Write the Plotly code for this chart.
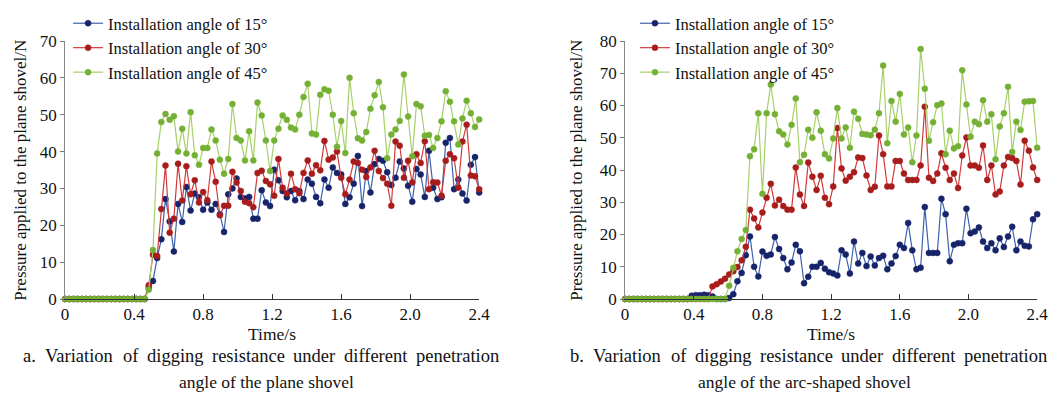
import numpy as np
import plotly.graph_objects as go

# ---------------- data ----------------
time_s = np.round(np.linspace(0, 2.4, 100), 4)  # uniform sampling grid of the simulation

tick_vals = [0, 0.4, 0.8, 1.2, 1.6, 2.0, 2.4]
tick_text = ["0", "0.4", "0.8", "1.2", "1.6", "2.0", "2.4"]

series_names = ["Installation angle of 15°", "Installation angle of 30°", "Installation angle of 45°"]

# (a) plane shovel
plane_15 = [0]*20 + [3, 4.9, 11.1, 16.2, 27.1, 21, 12.9, 25.8, 20.9, 30.4,
                     24, 28.6, 27.6, 24.2, 26.2, 24.2, 25.8, 23, 18.2, 28.4,
                     30, 32.7, 27.7, 27.3, 27.7, 21.8, 21.8, 29.5, 26.2, 25.2,
                     35.1, 32.2, 29.3, 27.6, 29.3, 26.8, 29.3, 27.1, 32.4, 31.3,
                     27.7, 26, 32.4, 30.2, 35.7, 34.2, 33.8, 25.8, 27.6, 31.3,
                     38.8, 25.2, 34.7, 28.9, 36.6, 38, 37.5, 34.4, 30.9, 32.9,
                     37.3, 35.4, 30.7, 26.4, 35.3, 33.8, 27.7, 40.2, 30.2, 27.1,
                     27.6, 42.4, 43.7, 29.8, 32.4, 28.6, 26.7, 36.4, 38.5, 28.9]
plane_30 = [0]*20 + [3.7, 12, 11.7, 24.4, 36.2, 18, 21.8, 36.7, 26.7, 36,
                     28.4, 32.2, 26.2, 29, 26.8, 37.3, 31.8, 22.7, 25.3, 25.3,
                     34.5, 31.6, 29.3, 26.4, 26, 24.9, 34.2, 34.8, 32, 31.1,
                     28, 38, 30.2, 28.6, 34, 29.8, 28.7, 34.2, 37.6, 34,
                     36.3, 34.9, 42.9, 37.8, 38.4, 40, 32.9, 28.4, 32.4, 37.3,
                     36.9, 35.1, 33.1, 35.7, 40.2, 34.7, 32.8, 31.3, 25.3, 42.7,
                     41.6, 32.9, 37.5, 31.6, 39.3, 36.9, 42.8, 29.8, 31.7, 31.6,
                     28, 37.5, 39.3, 38.2, 30.2, 42.7, 47.3, 33.5, 33.3, 29.8]
plane_45 = [0]*20 + [2.5, 13.3, 39.5, 48, 50.2, 48.6, 49.6, 40, 46.2, 39.5,
                     50.7, 39, 36.4, 41, 41, 46, 43, 37.8, 34, 38,
                     52.9, 43.7, 43, 37.6, 45.5, 37.6, 53.3, 49.8, 43, 34.7,
                     43, 46.2, 49.8, 48.6, 46.5, 46, 50, 54.8, 58.4, 44.9,
                     44.6, 55.4, 56.9, 56.5, 50, 41.3, 48.3, 39.6, 60, 50.4,
                     43.6, 43, 45.3, 51.6, 55.3, 58.9, 52, 38.2, 44.6, 46,
                     48.3, 60.9, 49.5, 38.7, 52.9, 52.3, 44.3, 44.5, 41, 43.7,
                     48.2, 56.4, 53.5, 48.2, 41.9, 49, 53.8, 50.4, 46.7, 48.7]

# (b) arc-shaped shovel
arc_15 = [0]*16 + [1.0, 1.2, 1.2, 1.3, 1.2, 0.8] + [0]*3 + [
    0.3, 1.5, 5.5, 8.1, 13.6, 19.4, 10, 7, 14.7, 13.4,
    13.8, 19.2, 15.5, 12.7, 9.2, 11.3, 16.8, 14.8, 4.9, 6.9,
    10, 10, 11.2, 9.4, 8.3, 7.9, 7.3, 15.1, 13.8, 7.9,
    17.8, 11, 14.3, 10.2, 13.2, 10.4, 12.7, 13.4, 9.2, 11,
    13.3, 16.8, 15.8, 23.6, 15.1, 9.2, 9.7, 28.5, 14.3, 14.3,
    14.3, 31.1, 26.3, 11.7, 16.8, 17.3, 17.3, 28, 20.4, 20.9,
    22.2, 17.8, 15.8, 17.3, 15.1, 18.8, 16.1, 19.4, 22.4, 15.1,
    17.8, 16.5, 16.3, 24.7, 26.3]
arc_30 = [0]*21 + [
    3.9, 4.6, 5.4, 6.3, 7.6, 8.6, 9.9, 12, 16.2, 27.7,
    25, 22.2, 26.8, 31.4, 35.7, 29, 30.8, 28.8, 27.7, 27.7,
    40.8, 32.4, 28.8, 42.3, 37.9, 33.8, 38.2, 31.4, 29.4, 34.9,
    53, 40.5, 36.7, 37.9, 39.3, 43.9, 43.7, 38.3, 33.8, 34.8,
    50.7, 44.9, 34.9, 34.9, 42.8, 42.8, 38.9, 36.9, 36.9, 36.9,
    41.4, 59.6, 37.6, 36.6, 38.9, 45.2, 40.7, 36.9, 38.9, 34.4,
    44.5, 50.1, 41.4, 41.4, 40.7, 47.6, 36.9, 41.4, 32.4, 33.3,
    41.4, 44, 43.7, 42.8, 35.5, 49.1, 46, 40.8, 36.9]
arc_45 = [0]*25 + [
    4.1, 9.7, 14.8, 18.6, 21.4, 44.3, 46.4, 57.6, 32.6, 57.6,
    66.5, 57.3, 52, 51, 47.9, 54, 62.2, 42.4, 44.7, 52.5,
    50, 57.9, 52.2, 44.9, 43.6, 49.8, 59.2, 49.8, 53.2, 46.9,
    58.1, 55.9, 51.2, 51, 50.8, 52.5, 57.6, 72.4, 48.3, 61.4,
    55, 63.6, 51, 53.2, 42.4, 50.7, 77.5, 65.2, 49.1, 54.8,
    60.1, 60.6, 44.9, 52.2, 46.7, 47.4, 70.9, 60.3, 50.3, 55,
    54.2, 61.6, 55, 57.3, 43.3, 53.5, 57.6, 65.8, 45.6, 55,
    52.4, 61.2, 61.3, 61.4, 46.9]

caption_a = ["a. Variation of digging resistance under different penetration", "angle of the plane shovel"]
caption_b = ["b. Variation of digging resistance under different penetration", "angle of the arc-shaped shovel"]

# ---------------- styling ----------------
W, H = 1060, 408
TOP, BOT = 41, 299  # pixel rows of the plot area
FONT = "Liberation Serif, Times New Roman, serif"
line_cols = ["#3d62ad", "#d23a3a", "#a6d06a"]
mark_cols = ["#17246a", "#a81c1c", "#74b034"]

fig = go.Figure()

panels = [
    ("x", "y", "legend", [plane_15, plane_30, plane_45]),
    ("x2", "y2", "legend2", [arc_15, arc_30, arc_45]),
]
for xa, ya, lg, ser in panels:
    for name, vals, lc, mc in zip(series_names, ser, line_cols, mark_cols):
        fig.add_trace(go.Scatter(
            x=time_s, y=vals, name=name, xaxis=xa, yaxis=ya, legend=lg,
            mode="lines+markers", cliponaxis=False,
            line=dict(color=lc, width=1.2),
            marker=dict(color=mc, size=6, line=dict(color=mc, width=0.5)),
        ))

def px_x(p):
    return p / W

def px_y(p):
    return (BOT - p) / (BOT - TOP)

axis_common = dict(showgrid=False, zeroline=False, showline=True,
                   tickfont=dict(family=FONT, size=17, color="#111"))

fig.update_layout(
    width=W, height=H,
    margin=dict(l=0, r=0, t=TOP, b=H - BOT),
    paper_bgcolor="white", plot_bgcolor="white",
    font=dict(family=FONT, color="#111"),
    xaxis=dict(domain=[px_x(62), px_x(482)], range=[0, 2.4], tickvals=tick_vals, ticktext=tick_text,
               ticks="inside", ticklen=5, tickcolor="#333", linecolor="#333", linewidth=1, **axis_common),
    yaxis=dict(range=[0, 70], tickvals=[0, 10, 20, 30, 40, 50, 60, 70], ticks="outside", ticklen=4,
               tickcolor="#777", linecolor="#888", linewidth=1, **axis_common),
    xaxis2=dict(domain=[px_x(630), px_x(1048)], range=[0, 2.4], tickvals=tick_vals, ticktext=tick_text,
                ticks="inside", ticklen=5, tickcolor="#333", linecolor="#333", linewidth=1, anchor="y2",
                **axis_common),
    yaxis2=dict(range=[0, 80], tickvals=[0, 10, 20, 30, 40, 50, 60, 70, 80], ticks="outside", ticklen=4,
                tickcolor="#777", linecolor="#888", linewidth=1, anchor="x2", **axis_common),
    legend=dict(x=px_x(65), y=px_y(6), xanchor="left", yanchor="top", bgcolor="rgba(0,0,0,0)",
                font=dict(family=FONT, size=16.5, color="#111"), itemwidth=30, tracegroupgap=0),
    legend2=dict(x=px_x(640), y=px_y(6), xanchor="left", yanchor="top", bgcolor="rgba(0,0,0,0)",
                 font=dict(family=FONT, size=16.5, color="#111"), itemwidth=30, tracegroupgap=0),
)

ann = []
for cx in (272, 839):
    ann.append(dict(text="Time/s", x=px_x(cx), y=px_y(334), xref="paper", yref="paper",
                    showarrow=False, xanchor="center", yanchor="middle",
                    font=dict(family=FONT, size=17.5, color="#111")))
for cx in (16, 580):
    ann.append(dict(text="Pressure applied to the plane shovel/N", x=px_x(cx), y=px_y(170),
                    xref="paper", yref="paper", showarrow=False, textangle=-90,
                    xanchor="center", yanchor="middle", font=dict(family=FONT, size=17, color="#111")))

# Captions: first line is justified (stretched to the column width) as in the source
CAP1_SIZE = 18.5
CAP2_SIZE = 17.5
TIMES_W = {" ": 250, ".": 250, "-": 333, "a": 444, "b": 500, "c": 444, "d": 500, "e": 444, "f": 333,
           "g": 500, "h": 500, "i": 278, "l": 278, "n": 500, "o": 500, "p": 500, "r": 333, "s": 389,
           "t": 278, "u": 500, "v": 500, "V": 722}

def text_w(s, size):
    return sum(TIMES_W.get(c, 500) for c in s) * size / 1000.0

for (x0, x1, cx2), cap in (((18, 500, 266), caption_a), ((573, 1056, 812), caption_b)):
    words = cap[0].split(" ")
    widths = [text_w(w, CAP1_SIZE) for w in words]
    gap = (x1 - x0 - sum(widths)) / (len(words) - 1)
    xpos = x0
    for wd, wv in zip(words, widths):
        ann.append(dict(text=wd, x=px_x(xpos), y=px_y(356), xref="paper", yref="paper",
                        showarrow=False, xanchor="left", yanchor="middle", borderpad=0,
                        font=dict(family=FONT, size=CAP1_SIZE, color="#111")))
        xpos += wv + gap
    ann.append(dict(text=cap[1], x=px_x(cx2), y=px_y(382), xref="paper", yref="paper",
                    showarrow=False, xanchor="center", yanchor="middle",
                    font=dict(family=FONT, size=CAP2_SIZE, color="#111")))
fig.update_layout(annotations=ann)

fig.write_html("out.html")
